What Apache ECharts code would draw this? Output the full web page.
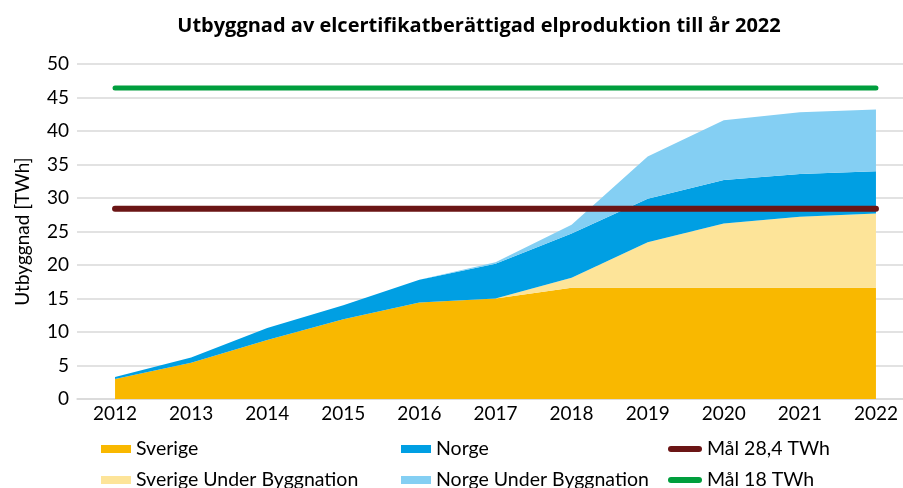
<!DOCTYPE html>
<html>
<head>
<meta charset="utf-8">
<script src="https://cdn.jsdelivr.net/npm/echarts@6/dist/echarts.min.js"></script>
<style>
  html, body { margin: 0; padding: 0; background: #fff; }
  #main { width: 903px; height: 488px; }
</style>
</head>
<body>
<div id="main"></div>
<script>
// årtal på x-axeln
var years = ['2012', '2013', '2014', '2015', '2016', '2017', '2018', '2019', '2020', '2021', '2022'];

// staplade ytor (TWh)
var sverige = [3.0, 5.4, 8.8, 11.9, 14.4, 15.0, 16.6, 16.6, 16.6, 16.6, 16.6];
var sverigeUnderBygg = [0, 0, 0, 0, 0, 0, 1.5, 6.8, 9.6, 10.6, 11.1];
var norge = [0.3, 0.8, 1.8, 2.1, 3.4, 5.2, 6.6, 6.5, 6.5, 6.4, 6.3];
var norgeUnderBygg = [0, 0, 0, 0, 0, 0.2, 1.3, 6.3, 8.9, 9.2, 9.2];

// mållinjer
var mal284 = [28.4, 28.4, 28.4, 28.4, 28.4, 28.4, 28.4, 28.4, 28.4, 28.4, 28.4];
var mal18 = [46.4, 46.4, 46.4, 46.4, 46.4, 46.4, 46.4, 46.4, 46.4, 46.4, 46.4];

var font = 'Lato';
var pill = 'path://M3 0H31A3 3 0 0 1 31 6H3A3 3 0 0 1 3 0Z';

function areaSerie(name, data, color) {
  return {
    name: name,
    type: 'line',
    stack: 'total',
    data: data,
    color: color,
    showSymbol: false,
    lineStyle: { width: 0 },
    areaStyle: { color: color, opacity: 1 },
    emphasis: { disabled: true }
  };
}

function malSerie(name, data, color, width) {
  return {
    name: name,
    type: 'line',
    data: data,
    color: color,
    showSymbol: false,
    lineStyle: { color: color, width: width, cap: 'round' },
    emphasis: { disabled: true },
    z: 5
  };
}

var legendText = { fontFamily: font, fontSize: 19.5, color: '#000', lineHeight: 22 };

var chart = echarts.init(document.getElementById('main'), null, { renderer: 'canvas' });

var option = {
  animation: false,
  title: {
    text: 'Utbyggnad av elcertifikatberättigad elproduktion till år 2022',
    left: 474,
    textAlign: 'center',
    top: 11,
    textStyle: { fontFamily: 'Open Sans', fontSize: 20, fontWeight: 'bold', color: '#000' }
  },
  grid: { left: 77, width: 837, top: 64, bottom: 89, outerBoundsMode: 'none' },
  legend: [
    {
      orient: 'vertical', left: 96, top: 433, height: 120, itemGap: 9,
      itemWidth: 30, itemHeight: 8, icon: 'rect',
      textStyle: legendText,
      data: ['Sverige', 'Sverige Under Byggnation']
    },
    {
      orient: 'vertical', left: 396, top: 433, height: 120, itemGap: 9,
      itemWidth: 30, itemHeight: 8, icon: 'rect',
      textStyle: legendText,
      data: ['Norge', 'Norge Under Byggnation']
    },
    {
      orient: 'vertical', left: 663, top: 433, height: 120, itemGap: 9,
      itemWidth: 34, itemHeight: 6, icon: pill,
      textStyle: legendText,
      data: ['Mål 28,4 TWh', 'Mål 18 TWh']
    }
  ],
  xAxis: {
    type: 'category',
    data: years,
    boundaryGap: true,
    axisLine: { lineStyle: { color: '#D9D9D9', width: 1.5 } },
    axisTick: { show: false },
    axisLabel: { fontFamily: font, fontSize: 19, color: '#000', margin: 5 }
  },
  yAxis: {
    type: 'value',
    min: 0,
    max: 50,
    interval: 5,
    name: 'Utbyggnad [TWh]',
    nameLocation: 'middle',
    nameGap: 45,
    nameTextStyle: { fontFamily: font, fontSize: 19, color: '#000' },
    axisLine: { show: false },
    axisTick: { show: false },
    axisLabel: { fontFamily: font, fontSize: 19, color: '#000', margin: 8 },
    splitLine: { lineStyle: { color: '#D9D9D9', width: 1.5 } }
  },
  series: [
    areaSerie('Sverige', sverige, '#F9B800'),
    areaSerie('Sverige Under Byggnation', sverigeUnderBygg, '#FDE499'),
    areaSerie('Norge', norge, '#009FE3'),
    areaSerie('Norge Under Byggnation', norgeUnderBygg, '#84CFF3'),
    malSerie('Mål 28,4 TWh', mal284, '#6B1515', 6),
    malSerie('Mål 18 TWh', mal18, '#009E3D', 5)
  ]
};

chart.setOption(option);
</script>
</body>
</html>
